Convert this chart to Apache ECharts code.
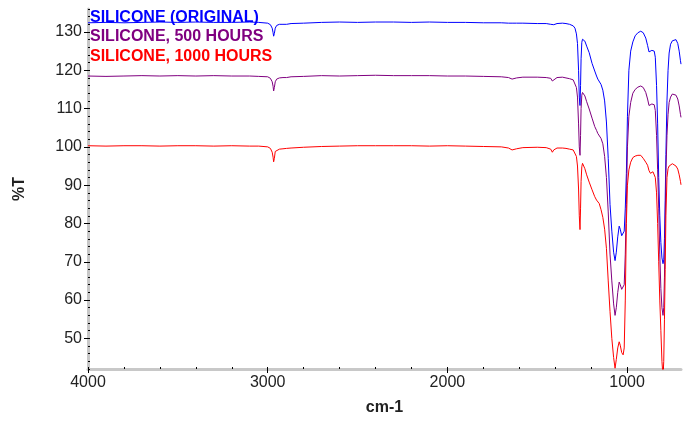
<!DOCTYPE html>
<html>
<head>
<meta charset="utf-8">
<script src="https://cdn.jsdelivr.net/npm/echarts@6/dist/echarts.min.js"></script>
<style>
html,body{margin:0;padding:0;background:#fff;}
#c{width:689px;height:421px;}
</style>
</head>
<body>
<div id="c"></div>
<script>
// ---- Data ----
const seriesNames = ['SILICONE (ORIGINAL)', 'SILICONE, 500 HOURS', 'SILICONE, 1000 HOURS'];
const wavenumbers = [4000,3900,3800,3700,3600,3500,3400,3300,3200,3100,3050,3000,2985,2975,2970,2967,2963,2958,2950,2935,2915,2905,2895,2870,2800,2700,2600,2500,2400,2300,2200,2100,2000,1900,1800,1700,1660,1640,1630,1615,1580,1500,1450,1425,1416,1408,1390,1360,1340,1320,1300,1290,1282,1276,1270,1266,1262,1259,1256,1252,1248,1242,1235,1225,1211,1195,1180,1170,1163,1155,1145,1135,1125,1115,1105,1095,1085,1075,1067,1060,1052,1044,1038,1030,1022,1016,1010,1004,998,990,980,968,955,940,924,910,896,886,878,870,862,856,849,843,836,830,824,818,812,806,800,796,792,788,784,778,772,766,758,748,738,728,718,710,703,700];
const originalT = [132.4,132.5,132.4,132.5,132.6,132.5,132.6,132.5,132.5,132.6,132.5,132.3,131.9,131.0,129.8,128.9,129.6,131.0,131.7,132.0,132.0,131.7,132.0,132.2,132.3,132.5,132.6,132.5,132.6,132.6,132.5,132.6,132.5,132.5,132.4,132.4,132.3,132.3,132.3,132.3,132.3,132.2,132.2,132.0,131.5,131.9,132.2,132.3,132.2,132.0,131.6,131.0,129.5,127,120,113,110.8,116,123,127.3,128.1,128.2,127.6,126.3,124.6,121.8,119.8,118.5,117.7,117.3,116.3,114.8,112.0,106.5,97,85,78,72.5,70.3,72.5,76.5,79.3,78.5,76.8,76.5,78.0,84,93,108,120,125,127.4,129,129.8,130.2,129.8,128.4,126.5,124.8,124.5,125.2,125.6,125.0,123.4,116,106,92,82,75,71,69.5,70.5,76,86,98,112,120,124.5,126.8,127.7,128.0,128.0,127.0,125.0,122.5,121.6];
const hours500T = [118.5,118.4,118.5,118.6,118.5,118.6,118.5,118.6,118.5,118.5,118.4,118.3,117.9,117.0,115.8,114.6,115.5,117.0,117.7,118.0,118.1,117.9,118.1,118.3,118.4,118.6,118.5,118.6,118.7,118.6,118.6,118.6,118.5,118.5,118.4,118.3,118.1,117.7,117.7,118.0,118.2,118.2,118.1,117.9,117.2,117.7,118.1,118.2,118.0,117.8,117.5,117.0,115.5,113,106,100,97.8,103,110,113.5,114.2,114.2,113.3,111.8,109.9,107.5,105.3,104.3,103.5,103.1,102.2,100.8,97.5,92,83,72,65,59,56.0,58,62,64.7,64.0,62.8,62.4,64.0,72,85,100,108,111.6,114,115,115.6,115.9,115.5,114.2,112.5,110.8,110.6,111.2,111.6,111.0,109.5,103,94,84,72,63,58,56.0,58,66,80,93,103,108.5,111.6,113,113.8,113.9,113.5,112.5,110.7,108.5,107.7];
const hours1000T = [100.3,100.2,100.3,100.3,100.2,100.3,100.3,100.2,100.3,100.2,100.2,100.0,99.6,98.6,97.3,96.1,97.0,98.8,99.3,99.4,99.5,99.5,99.6,99.7,99.9,100.1,100.2,100.3,100.3,100.3,100.3,100.2,100.3,100.2,100.1,100.0,99.7,99.2,99.1,99.5,99.8,99.9,99.8,99.4,98.6,99.2,99.7,99.7,99.6,99.4,99.2,98.7,97.5,95,89,82,78.4,84,91,94.8,95.7,95.5,94.3,92.7,90.8,88.8,87.0,86.1,85.8,85.2,83.6,81.6,78.5,73.5,65,57,50,45,42.2,44.5,47.5,49.1,48.2,46.3,45.7,47.5,60,80,90,94,96,97.2,97.6,97.8,97.8,97.0,96.0,95.2,93.8,93.1,93.3,93.5,93.0,92.0,88,80,70,60,52,44,40,44,55,68,82,92,94.3,95.0,95.3,95.6,95.6,95.0,94.2,92.7,91.0,90.1];
const seriesColors = ['#0000ff', '#800080', '#ff0000'];
const xTickLabels = [4000, 3000, 2000, 1000];
const yTickLabels = [50, 60, 70, 80, 90, 100, 110, 120, 130];

// minor tick positions
const xMinorTicks = [];
for (let v = 800; v <= 4000; v += 200) xMinorTicks.push(v);
const yMinorTicks = [];
for (let v = 42; v <= 136; v += 2) yMinorTicks.push(v);

const FONT = "'Liberation Sans', Arial, Helvetica, sans-serif";
const allT = [originalT, hours500T, hours1000T];

const chart = echarts.init(document.getElementById('c'), null, {renderer: 'canvas'});
const axisLineStyle = {color: '#c8c8c8', width: 3};
const plain = v => String(v);

chart.setOption({
  animation: false,
  backgroundColor: '#ffffff',
  grid: {left: 88, right: 8, top: 9, bottom: 48, containLabel: false},
  legend: {
    left: 80, top: 3, orient: 'vertical', icon: 'none', itemWidth: 0, itemHeight: 14, itemGap: 0.5,
    selectedMode: false,
    textStyle: {fontFamily: FONT, fontSize: 16, fontWeight: 'bold', lineHeight: 19},
    data: seriesNames.map((n, i) => ({name: n, textStyle: {color: seriesColors[i]}}))
  },
  xAxis: [{
    type: 'value', inverse: true, min: 700, max: 4000, position: 'bottom',
    name: 'cm-1', nameLocation: 'middle', nameGap: 31,
    nameTextStyle: {fontFamily: FONT, fontSize: 16, fontWeight: 'bold', color: '#222'},
    splitLine: {show: false},
    axisLine: {show: true, onZero: false, lineStyle: axisLineStyle},
    axisTick: {show: true, customValues: xTickLabels, length: 4, lineStyle: {color: '#000'}},
    axisLabel: {customValues: xTickLabels, formatter: plain, fontFamily: FONT, fontSize: 16, color: '#222', margin: 6}
  }, {
    type: 'value', inverse: true, min: 700, max: 4000, position: 'bottom',
    splitLine: {show: false},
    axisLine: {show: false, onZero: false},
    axisTick: {show: true, inside: true, customValues: xMinorTicks, length: 2, lineStyle: {color: '#000'}},
    axisLabel: {show: false}
  }],
  yAxis: [{
    type: 'value', min: 42, max: 136, position: 'left',
    name: '%T', nameLocation: 'middle', nameGap: 60,
    nameTextStyle: {fontFamily: FONT, fontSize: 16, fontWeight: 'bold', color: '#222'},
    splitLine: {show: false},
    axisLine: {show: true, onZero: false, lineStyle: axisLineStyle},
    axisTick: {show: true, customValues: yTickLabels, length: 4, lineStyle: {color: '#000'}},
    axisLabel: {customValues: yTickLabels, formatter: plain, fontFamily: FONT, fontSize: 16, color: '#222', margin: 6}
  }, {
    type: 'value', min: 42, max: 136, position: 'left',
    splitLine: {show: false},
    axisLine: {show: false, onZero: false},
    axisTick: {show: true, inside: true, customValues: yMinorTicks, length: 2, lineStyle: {color: '#000'}},
    axisLabel: {show: false}
  }],
  series: seriesNames.map((n, i) => ({
    name: n, type: 'line', xAxisIndex: 0, yAxisIndex: 0,
    showSymbol: false, symbol: 'none', clip: true,
    lineStyle: {color: seriesColors[i], width: 1},
    itemStyle: {color: seriesColors[i]},
    data: wavenumbers.map((w, k) => [w, allT[i][k]])
  }))
});
</script>
</body>
</html>
